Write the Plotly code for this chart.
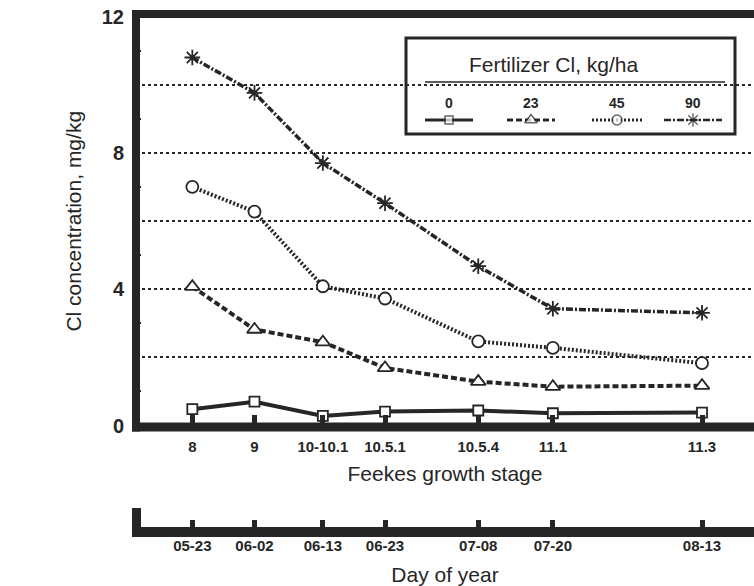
import plotly.graph_objects as go

# ---------------- data ----------------
stages = ['8', '9', '10-10.1', '10.5.1', '10.5.4', '11.1', '11.3']
dates = ['05-23', '06-02', '06-13', '06-23', '07-08', '07-20', '08-13']
day_of_year = [143, 153, 164, 174, 189, 201, 225]
rates = ['0', '23', '45', '90']
cl_0 = [0.48, 0.70, 0.28, 0.41, 0.44, 0.36, 0.38]
cl_23 = [4.08, 2.82, 2.45, 1.69, 1.29, 1.14, 1.17]
cl_45 = [7.01, 6.28, 4.09, 3.73, 2.47, 2.28, 1.83]
cl_90 = [10.81, 9.77, 7.71, 6.53, 4.68, 3.43, 3.31]
y_ticks = [0, 2, 4, 6, 8, 10, 12]
y_ticktext = ['0', '', '4', '', '8', '', '12']
y_minor = [1, 3, 5, 7, 9, 11]

# ---------------- layout helpers ----------------
W, H = 754, 586
L, R, T, B = 136, 0, 17, 54
PW, PH = W - L - R, H - T - B
INK = '#262626'
FONT = 'Liberation Sans, Arial, sans-serif'


def px(x):
    return (x - L) / PW


def py(y):
    return (H - B - y) / PH


x_range = [133.94, 233.36]
ydom0 = py(425.5)

styles = [
    dict(dash='solid', width=4, symbol='square', size=10),
    dict(dash='6px,3px', width=4, symbol='triangle-up', size=13),
    dict(dash='2px,2px', width=4, symbol='circle', size=12),
    dict(dash='7px,2px,2px,2px', width=3.5, symbol='asterisk-open', size=13),
]
series = [cl_0, cl_23, cl_45, cl_90]

fig = go.Figure()
for vals, st, rate in zip(series, styles, rates):
    mcol = INK if st['symbol'].startswith('asterisk') else 'white'
    fig.add_trace(go.Scatter(
        x=day_of_year, y=vals, mode='lines+markers', name=rate,
        line=dict(color=INK, width=st['width'], dash=st['dash']),
        marker=dict(symbol=st['symbol'], size=st['size'], color=mcol,
                    line=dict(color=INK, width=1.8)),
        showlegend=False))

# dummy trace so the "Day of year" axis exists
fig.add_trace(go.Scatter(x=day_of_year, y=[None] * len(day_of_year), xaxis='x2', yaxis='y',
                         mode='markers', hoverinfo='skip', showlegend=False))

# custom legend keys (label above the key, as in the original)
key_cx = [449, 531, 617, 693]
key_half = [24, 24, 25, 29]
key_y = 120
label_y = 103
for cx, hw, st in zip(key_cx, key_half, styles):
    mcol = INK if st['symbol'].startswith('asterisk') else 'white'
    fig.add_trace(go.Scatter(
        x=[cx - hw, cx, cx + hw], y=[key_y] * 3, xaxis='x3', yaxis='y3',
        mode='lines+markers', hoverinfo='skip', showlegend=False,
        line=dict(color=INK, width=st['width'] - 1, dash=st['dash']),
        marker=dict(symbol=st['symbol'], size=[0, st['size'] - 2, 0], color=mcol,
                    line=dict(color=INK, width=1.5))))

shapes = [
    # frame: top, bottom, left
    dict(type='line', xref='paper', yref='paper', x0=px(132), x1=1.0, y0=py(14), y1=py(14),
         line=dict(color=INK, width=8)),
    dict(type='line', xref='paper', yref='paper', x0=px(132), x1=1.0, y0=py(427), y1=py(427),
         line=dict(color=INK, width=9)),
    dict(type='line', xref='paper', yref='paper', x0=px(136), x1=px(136), y0=py(431.5), y1=py(10),
         line=dict(color=INK, width=8)),
    # lower "Day of year" axis line and its left bar
    dict(type='line', xref='paper', yref='paper', x0=px(132), x1=1.0, y0=py(532), y1=py(532),
         line=dict(color=INK, width=10)),
    dict(type='line', xref='paper', yref='paper', x0=px(136.5), x1=px(136.5), y0=py(537), y1=py(508),
         line=dict(color=INK, width=9)),
    # legend box
    dict(type='rect', xref='paper', yref='paper', x0=px(406), x1=px(735), y0=py(134), y1=py(38),
         line=dict(color=INK, width=3), fillcolor='white', layer='between'),
    dict(type='line', xref='paper', yref='paper', x0=px(425), x1=px(725), y0=py(82), y1=py(82),
         line=dict(color=INK, width=1.5)),
]

annotations = [
    dict(text='Fertilizer Cl, kg/ha', xref='paper', yref='paper', x=px(554), y=py(64),
         showarrow=False, xanchor='center', yanchor='middle',
         font=dict(family=FONT, size=21, color=INK)),
]
for cx, rate in zip(key_cx, rates):
    annotations.append(dict(text=rate, xref='paper', yref='paper', x=px(cx), y=py(label_y),
                            showarrow=False, xanchor='center', yanchor='middle',
                            font=dict(family=FONT, size=14, color=INK, weight=700)))

fig.update_layout(
    width=W, height=H,
    margin=dict(l=L, r=R, t=T, b=B, autoexpand=False),
    paper_bgcolor='white', plot_bgcolor='rgba(0,0,0,0)',
    font=dict(family=FONT, color=INK),
    shapes=shapes, annotations=annotations,
    xaxis=dict(range=x_range, anchor='y', tickmode='array', tickvals=day_of_year, ticktext=stages,
               ticks='inside', ticklen=11, tickwidth=5, tickcolor=INK,
               showline=False, showgrid=False, zeroline=False, automargin=False,
               ticklabelstandoff=10,
               tickfont=dict(family=FONT, size=15, color=INK, weight=700),
               title=dict(text='Feekes growth stage', standoff=12,
                          font=dict(family=FONT, size=21, color=INK))),
    xaxis2=dict(range=x_range, overlaying='x', anchor='free', position=0, side='bottom',
                tickmode='array', tickvals=day_of_year, ticktext=dates,
                ticks='inside', ticklen=12, tickwidth=5, tickcolor=INK,
                showline=False, showgrid=False, zeroline=False, automargin=False,
                ticklabelstandoff=3,
                tickfont=dict(family=FONT, size=15, color=INK, weight=700),
                title=dict(text='Day of year', standoff=14,
                           font=dict(family=FONT, size=21, color=INK))),
    yaxis=dict(domain=[ydom0, 1], range=[0, 12], anchor='x', tickmode='array',
               tickvals=y_ticks, ticktext=y_ticktext, ticks='',
               showgrid=True, griddash='dot', gridcolor=INK, gridwidth=1.5,
               showline=False, zeroline=False, ticklabelstandoff=11, automargin=False,
               minor=dict(tickvals=y_minor, ticks='inside', ticklen=5, tickwidth=1.5,
                          tickcolor=INK, showgrid=False),
               tickfont=dict(family=FONT, size=20, color=INK, weight=700),
               title=dict(text='Cl concentration, mg/kg', standoff=14,
                          font=dict(family=FONT, size=21, color=INK))),
    xaxis3=dict(domain=[0, 1], range=[L, W], anchor='y3', visible=False, fixedrange=True),
    yaxis3=dict(domain=[0, 1], range=[H - B, T], anchor='x3', visible=False, fixedrange=True),
)

fig.write_html('out.html', config={'displayModeBar': False},
               post_script="document.body.style.margin='0px';document.body.style.overflow='hidden';")
